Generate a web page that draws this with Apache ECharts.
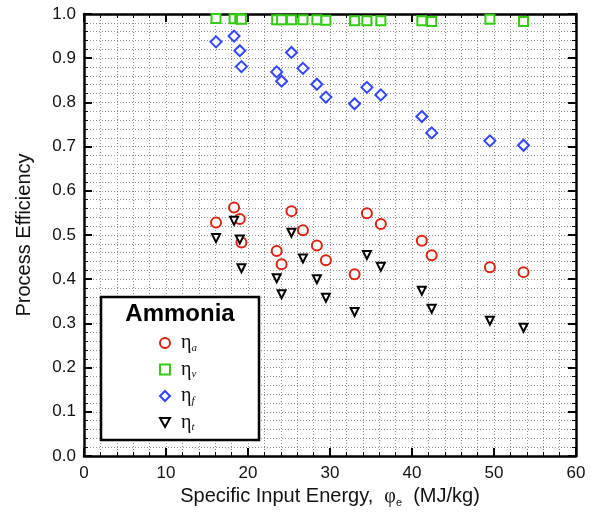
<!DOCTYPE html>
<html>
<head>
<meta charset="utf-8">
<script src="https://cdn.jsdelivr.net/npm/echarts@6/dist/echarts.min.js"></script>
<style>html,body{margin:0;padding:0;background:#fff}#c{width:595px;height:517px}</style>
</head>
<body>
<div id="c"></div>
<script>
// Specific input energy (MJ/kg), shared by all series
var energy = [16.1, 18.3, 19.0, 19.2, 23.5, 24.1, 25.3, 26.7, 28.4, 29.5, 33.0, 34.5, 36.2, 41.2, 42.4, 49.5, 53.6];
var etaA = [0.528, 0.562, 0.536, 0.483, 0.464, 0.434, 0.554, 0.511, 0.476, 0.443, 0.411, 0.549, 0.525, 0.487, 0.454, 0.427, 0.416];
var etaV = [0.990, 0.989, 0.989, 0.988, 0.987, 0.987, 0.987, 0.987, 0.987, 0.986, 0.985, 0.985, 0.985, 0.985, 0.983, 0.988, 0.983];
var etaF = [0.937, 0.950, 0.917, 0.881, 0.869, 0.848, 0.913, 0.877, 0.841, 0.812, 0.797, 0.834, 0.817, 0.768, 0.731, 0.713, 0.703];
var etaT = [0.493, 0.532, 0.490, 0.425, 0.402, 0.366, 0.505, 0.447, 0.400, 0.358, 0.326, 0.455, 0.428, 0.374, 0.333, 0.306, 0.290];
var seriesSubs = ['a', 'v', 'f', 't'];
var xTicks = [0, 10, 20, 30, 40, 50, 60];
var yTicks = [0.0, 0.1, 0.2, 0.3, 0.4, 0.5, 0.6, 0.7, 0.8, 0.9, 1.0];

function pairs(ys) { return energy.map(function (x, i) { return [x, ys[i]]; }); }

var chart = echarts.init(document.getElementById('c'), null, { renderer: 'canvas' });
var gridLine = { show: true, lineStyle: { color: '#909090', type: [1, 2], width: 1 } };
var lbl = { fontFamily: 'Liberation Sans, Arial', fontSize: 17, color: '#111' };
function xAxisDef(pos, showLabels) {
  return {
    type: 'value', position: pos, min: 0, max: 60, interval: 10,
    axisLine: { show: true, onZero: false, lineStyle: { color: '#000', width: 2.5 } },
    axisTick: { show: true, inside: true, length: 8, lineStyle: { color: '#000', width: 2 } },
    minorTick: { show: true, splitNumber: 5, length: 4, lineStyle: { color: '#000', width: 1 } },
    splitLine: showLabels ? gridLine : { show: false },
    minorSplitLine: showLabels ? gridLine : { show: false },
    axisLabel: showLabels ? Object.assign({ margin: 9, formatter: function (v) { return xTicks.indexOf(v) >= 0 ? String(v) : ''; } }, lbl) : { show: false },
    name: showLabels ? 'Specific Input Energy,  {phi|φ}{sub|e}  (MJ/kg)' : '',
    nameLocation: 'middle', nameGap: 27,
    nameTextStyle: {
      fontFamily: 'Liberation Sans, Arial', fontSize: 20, color: '#111',
      rich: { phi: { fontFamily: 'Liberation Serif', fontSize: 20, color: '#111' },
              sub: { fontFamily: 'Liberation Sans', fontSize: 11, color: '#111', padding: [12, 0, 0, 0] } }
    }
  };
}
function yAxisDef(pos, showLabels) {
  return {
    type: 'value', position: pos, min: 0, max: 1, interval: 0.1,
    axisLine: { show: true, onZero: false, lineStyle: { color: '#000', width: 2.5 } },
    axisTick: { show: true, inside: true, length: 8, lineStyle: { color: '#000', width: 2 } },
    minorTick: { show: true, splitNumber: 5, length: 4, lineStyle: { color: '#000', width: 1 } },
    splitLine: showLabels ? gridLine : { show: false },
    minorSplitLine: showLabels ? gridLine : { show: false },
    axisLabel: showLabels ? Object.assign({ margin: 8, formatter: function (v) { return v.toFixed(1); } }, lbl) : { show: false },
    name: showLabels ? 'Process Efficiency' : '',
    nameLocation: 'middle', nameGap: 50,
    nameTextStyle: { fontFamily: 'Liberation Sans, Arial', fontSize: 20, color: '#111' }
  };
}

var legendRich = {
  e: { fontFamily: 'Liberation Serif', fontSize: 20, color: '#111' },
  s: { fontFamily: 'Liberation Serif', fontStyle: 'italic', fontSize: 11, color: '#111', padding: [10, 0, 0, 0] }
};

function sc(name, data, symbol, color, size) {
  return {
    name: name, type: 'scatter', data: pairs(data), symbol: symbol, symbolSize: size,
    xAxisIndex: 0, yAxisIndex: 0,
    itemStyle: { color: '#fff', borderColor: color, borderWidth: 2, opacity: 1 },
    emphasis: { disabled: true }, z: 5
  };
}

chart.setOption({
  animation: false,
  backgroundColor: '#fff',
  grid: { left: 84, right: 19, top: 14, bottom: 61, containLabel: false },
  xAxis: [xAxisDef('bottom', true), xAxisDef('top', false)],
  yAxis: [yAxisDef('left', true), yAxisDef('right', false)],
  legend: {
    orient: 'vertical', left: 154, top: 328, itemGap: 6, itemWidth: 10, itemHeight: 10,
    z: 20,
    formatter: function (name) { return '{e|η}{s|' + name + '}'; },
    textStyle: { rich: legendRich, padding: [0, 0, 0, 6] },
    data: seriesSubs
  },
  graphic: {
    elements: [
      { type: 'rect', z: 15, shape: { x: 101, y: 297, width: 158, height: 143 },
        style: { fill: '#fff', stroke: '#000', lineWidth: 2.5 } },
      { type: 'text', z: 16, x: 180, y: 314,
        style: { text: 'Ammonia', font: 'bold 24px "Liberation Sans", Arial', fill: '#000', textAlign: 'center', textVerticalAlign: 'middle' } }
    ]
  },
  series: [
    sc(seriesSubs[0], etaA, 'circle', '#dd2211', 10),
    sc(seriesSubs[1], etaV, 'rect', '#33cc11', 9),
    sc(seriesSubs[2], etaF, 'diamond', '#3344ff', 11),
    sc(seriesSubs[3], etaT, 'path://M0,0 L10,0 L5,9 Z', '#000', 8)
  ]
});
</script>
</body>
</html>
